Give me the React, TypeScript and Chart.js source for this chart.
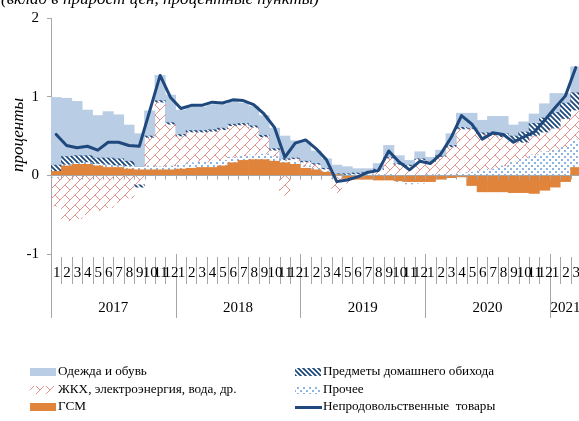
import React, { useEffect, useRef } from 'react';
import { Chart, registerables } from 'chart.js';

Chart.register(...registerables);

// ---- data ----
const monthLabels = [
  '1','2','3','4','5','6','7','8','9','10','11','12',
  '1','2','3','4','5','6','7','8','9','10','11','12',
  '1','2','3','4','5','6','7','8','9','10','11','12',
  '1','2','3','4','5','6','7','8','9','10','11','12',
  '1','2','3',
];
const yearLabels = ['2017', '2018', '2019', '2020', '2021'];
const yearMonthCounts = [12, 12, 12, 12, 3];

const clothing = [
  0.86, 0.74, 0.69, 0.58, 0.54, 0.59, 0.56, 0.46, 0.42, 0.32, 0.32, 0.35,
  0.31, 0.31, 0.30, 0.32, 0.30, 0.29, 0.26, 0.25, 0.25, 0.26, 0.29, 0.22,
  0.25, 0.16, 0.12, 0.11, 0.09, 0.055, 0.045, 0.07, 0.15, 0.10, 0.06, 0.09,
  0.05, 0.07, 0.15, 0.18, 0.19, 0.16, 0.21, 0.22, 0.14, 0.13, 0.12, 0.18,
  0.24, 0.12, 0.33,
];
const housing = [
  -0.36, -0.58, -0.55, -0.50, -0.45, -0.41, -0.35, -0.29, -0.12, 0.36, 0.82, 0.53,
  0.36, 0.39, 0.38, 0.39, 0.39, 0.40, 0.39, 0.35, 0.22, 0.08, -0.25, 0.03,
  0.05, 0.05, 0.02, -0.20, -0.06, 0.01, 0.02, 0.06, 0.20, 0.14, 0.12, 0.20,
  0.16, 0.22, 0.34, 0.56, 0.55, 0.46, 0.43, 0.37, 0.28, 0.20, 0.24, 0.25,
  0.27, 0.36, 0.38,
];
const fuel = [
  0.05, 0.12, 0.14, 0.14, 0.12, 0.10, 0.10, 0.08, 0.07, 0.07, 0.07, 0.07,
  0.08, 0.09, 0.10, 0.10, 0.12, 0.16, 0.19, 0.20, 0.20, 0.18, 0.16, 0.14,
  0.09, 0.07, 0.04, 0.01, -0.04, -0.05, -0.05, -0.06, -0.06, -0.07, -0.08, -0.08,
  -0.08, -0.05, -0.03, -0.02, -0.13, -0.21, -0.21, -0.21, -0.22, -0.22, -0.23, -0.19,
  -0.15, -0.08, 0.10,
];
const household = [
  0.08, 0.10, 0.09, 0.08, 0.07, 0.08, 0.08, 0.06, -0.03, 0.02, 0.02, 0.02,
  0.02, 0.02, 0.02, 0.02, 0.02, 0.02, 0.02, 0.02, 0.02, 0.02, 0.01, 0.01,
  0.01, 0.01, 0.01, 0.01, 0.01, 0.01, 0.01, 0.01, 0.01, 0.01, 0.01, 0.01,
  0.01, 0.01, 0.02, 0.02, 0.01, 0.02, 0.03, 0.04, 0.05, 0.13, 0.16, 0.18,
  0.20, 0.20, 0.22,
];
const other = [
  -0.03, 0.02, 0.02, 0.03, 0.03, 0.04, 0.03, 0.04, 0.04, 0.05, 0.04, 0.05,
  0.06, 0.07, 0.07, 0.07, 0.07, 0.07, 0.06, 0.06, 0.07, 0.06, 0.04, 0.04,
  0.03, 0.02, 0.02, -0.02, 0.01, 0.01, 0.01, 0.01, 0.02, -0.02, -0.03, -0.02,
  0.01, 0.02, 0.02, 0.03, 0.04, 0.06, 0.08, 0.12, 0.17, 0.22, 0.26, 0.30,
  0.33, 0.36, 0.35,
];
const nonfood = [
  0.52, 0.38, 0.35, 0.37, 0.32, 0.42, 0.42, 0.38, 0.37, 0.82, 1.27, 0.99,
  0.85, 0.89, 0.89, 0.93, 0.92, 0.96, 0.95, 0.90, 0.78, 0.61, 0.23, 0.41,
  0.45, 0.34, 0.20, -0.08, -0.06, -0.02, 0.04, 0.06, 0.31, 0.17, 0.07, 0.18,
  0.15, 0.27, 0.48, 0.76, 0.65, 0.46, 0.54, 0.52, 0.42, 0.49, 0.55, 0.70,
  0.86, 1.01, 1.37,
];

const SERIES_NAMES = {
  clothing: 'Одежда и обувь',
  housing: 'ЖКХ, электроэнергия, вода, др.',
  fuel: 'ГСМ',
  household: 'Предметы домашнего обихода',
  other: 'Прочее',
  nonfood: 'Непродовольственные  товары',
};
const Y_TITLE = 'проценты';
const CAPTION = '(вклад в прирост цен, процентные пункты)';

// ---- styles ----
const SERIF = "'Liberation Serif', 'Times New Roman', serif";
const C_CLOTH = '#B9CDE5';
const C_FUEL = '#E0843C';
const C_LINE = '#1F497D';
const C_AXIS = '#A6A6A6';

function makeTile(size: number, draw: (c: CanvasRenderingContext2D) => void): CanvasPattern {
  const cv = document.createElement('canvas');
  cv.width = size;
  cv.height = size;
  const c = cv.getContext('2d') as CanvasRenderingContext2D;
  draw(c);
  const ctx = document.createElement('canvas').getContext('2d') as CanvasRenderingContext2D;
  return ctx.createPattern(cv, 'repeat') as CanvasPattern;
}

function brickPattern() {
  return makeTile(10, (c) => {
    c.strokeStyle = '#E3918B';
    c.lineWidth = 1;
    c.beginPath();
    c.moveTo(-1, 11); c.lineTo(11, -1);
    c.moveTo(5, 5); c.lineTo(10, 10);
    c.stroke();
  });
}
function hatchPattern() {
  return makeTile(5, (c) => {
    c.strokeStyle = C_LINE;
    c.lineWidth = 1.8;
    c.beginPath();
    for (let k = -1; k <= 1; k++) {
      c.moveTo(k * 5 - 1, -1);
      c.lineTo(k * 5 + 6, 6);
    }
    c.stroke();
  });
}
function dotPattern() {
  return makeTile(6, (c) => {
    c.fillStyle = '#8DB4E2';
    c.fillRect(0, 0, 2, 2);
    c.fillRect(3, 3, 2, 2);
  });
}

export default function App() {
  const ref = useRef<HTMLCanvasElement | null>(null);

  useEffect(() => {
    const canvas = ref.current;
    if (!canvas) return;
    const pBrick = brickPattern();
    const pHatch = hatchPattern();
    const pDot = dotPattern();

    const barBase = {
      type: 'bar' as const,
      stack: 'bars',
      barPercentage: 1,
      categoryPercentage: 1,
      borderWidth: 0,
      order: 1,
    };

    const customPlugin = {
      id: 'customDecor',
      beforeDatasetDraw(chart: any, args: any) {
        if (args.meta.type !== 'line') return;
        const { ctx, chartArea } = chart;
        const x = chart.scales.x;
        const y = chart.scales.y;
        const y0 = Math.round(y.getPixelForValue(0)) + 0.5;
        const half = (x.getPixelForValue(1) - x.getPixelForValue(0)) / 2;
        ctx.save();
        ctx.strokeStyle = C_AXIS;
        ctx.lineWidth = 1;
        ctx.beginPath();
        ctx.moveTo(chartArea.left, y0);
        ctx.lineTo(chartArea.right, y0);
        for (let i = 0; i <= monthLabels.length; i++) {
          const bx = Math.round(x.getPixelForValue(0) - half + 2 * half * i) + 0.5;
          ctx.moveTo(bx, y0);
          ctx.lineTo(bx, y0 + 4);
        }
        ctx.stroke();
        ctx.restore();
      },
      afterDraw(chart: any) {
        const { ctx, chartArea } = chart;
        const x = chart.scales.x;
        const half = (x.getPixelForValue(1) - x.getPixelForValue(0)) / 2;
        const bottom = chartArea.bottom;
        ctx.save();
        ctx.strokeStyle = C_AXIS;
        ctx.lineWidth = 1;
        ctx.beginPath();
        let idx = 0;
        const yearStarts: number[] = [];
        for (let k = 0; k < yearMonthCounts.length; k++) {
          yearStarts.push(idx);
          idx += yearMonthCounts[k];
        }
        for (let i = 0; i < monthLabels.length; i++) {
          const bx = Math.round(x.getPixelForValue(0) - half + 2 * half * i) + 0.5;
          const isYear = yearStarts.includes(i);
          ctx.moveTo(bx, bottom + (isYear ? 0 : 3));
          ctx.lineTo(bx, isYear ? 318 : 284);
        }
        ctx.stroke();

        ctx.fillStyle = '#000';
        ctx.textAlign = 'center';
        ctx.textBaseline = 'middle';
        ctx.font = `15px ${SERIF}`;
        monthLabels.forEach((m, i) => {
          ctx.fillText(m, x.getPixelForValue(i) + 0.5, 273);
        });
        for (let k = 0; k < yearLabels.length; k++) {
          const s = yearStarts[k];
          const e = s + yearMonthCounts[k] - 1;
          const cx = (x.getPixelForValue(s) + x.getPixelForValue(e)) / 2;
          ctx.fillText(yearLabels[k], cx, 308);
        }

        // y title
        ctx.save();
        ctx.translate(19, 135);
        ctx.rotate(-Math.PI / 2);
        ctx.font = `italic 17px ${SERIF}`;
        ctx.fillText(Y_TITLE, 0, 0);
        ctx.restore();

        // caption (cut off at top)
        ctx.textAlign = 'left';
        ctx.textBaseline = 'alphabetic';
        ctx.font = `italic 17px ${SERIF}`;
        ctx.fillText(CAPTION, 1, 4);

        // legend
        ctx.font = `13.2px ${SERIF}`;
        ctx.textBaseline = 'middle';
        const rows = [372, 390, 407];
        const drawSwatch = (fill: any, sx: number, sy: number) => {
          ctx.fillStyle = fill;
          ctx.fillRect(sx, sy - 4, 26, 8);
        };
        drawSwatch(C_CLOTH, 30, rows[0]);
        drawSwatch(pBrick, 30, rows[1]);
        drawSwatch(C_FUEL, 30, rows[2]);
        drawSwatch(pHatch, 295, rows[0]);
        drawSwatch(pDot, 295, rows[1]);
        ctx.strokeStyle = C_LINE;
        ctx.lineWidth = 3;
        ctx.beginPath();
        ctx.moveTo(295, rows[2] + 0.5);
        ctx.lineTo(322, rows[2] + 0.5);
        ctx.stroke();
        ctx.fillStyle = '#000';
        ctx.fillText(SERIES_NAMES.clothing, 58, rows[0]);
        ctx.fillText(SERIES_NAMES.housing, 58, rows[1]);
        ctx.fillText(SERIES_NAMES.fuel, 58, rows[2]);
        ctx.fillText(SERIES_NAMES.household, 323, rows[0]);
        ctx.fillText(SERIES_NAMES.other, 323, rows[1]);
        ctx.fillText(SERIES_NAMES.nonfood, 323, rows[2]);
        ctx.restore();
      },
    };

    const chart = new Chart(canvas, {
      type: 'bar',
      data: {
        labels: monthLabels,
        datasets: [
          { ...barBase, label: SERIES_NAMES.fuel, data: fuel, backgroundColor: C_FUEL },
          { ...barBase, label: SERIES_NAMES.other, data: other, backgroundColor: pDot },
          { ...barBase, label: SERIES_NAMES.housing, data: housing, backgroundColor: pBrick },
          { ...barBase, label: SERIES_NAMES.household, data: household, backgroundColor: pHatch },
          { ...barBase, label: SERIES_NAMES.clothing, data: clothing, backgroundColor: C_CLOTH },
          {
            type: 'line',
            label: SERIES_NAMES.nonfood,
            data: nonfood,
            stack: 'line',
            order: 0,
            borderColor: C_LINE,
            borderWidth: 3,
            pointRadius: 0,
            tension: 0,
            borderJoinStyle: 'round',
            borderCapStyle: 'round',
            fill: false,
          } as any,
        ],
      },
      options: {
        responsive: false,
        animation: false,
        devicePixelRatio: 1,
        layout: { padding: { top: 18, bottom: 167, left: 0, right: 1 } },
        plugins: { legend: { display: false }, tooltip: { enabled: false } },
        scales: {
          x: { display: false, stacked: true },
          y: {
            stacked: true,
            min: -1,
            max: 2,
            ticks: {
              stepSize: 1,
              color: '#000',
              font: { family: SERIF, size: 15 },
              padding: 8,
            },
            grid: { drawOnChartArea: false, drawTicks: true, tickLength: 4, color: C_AXIS },
            border: { display: true, color: C_AXIS },
            afterFit: (s: any) => { s.width = 51; },
          },
        },
      },
      plugins: [customPlugin],
    });
    return () => chart.destroy();
  }, []);

  return (
    <div style={{ position: 'fixed', left: 0, top: 0, width: 582, height: 421, background: '#fff' }}>
      <canvas ref={ref} width={582} height={421} style={{ width: 582, height: 421, display: 'block' }} />
    </div>
  );
}
